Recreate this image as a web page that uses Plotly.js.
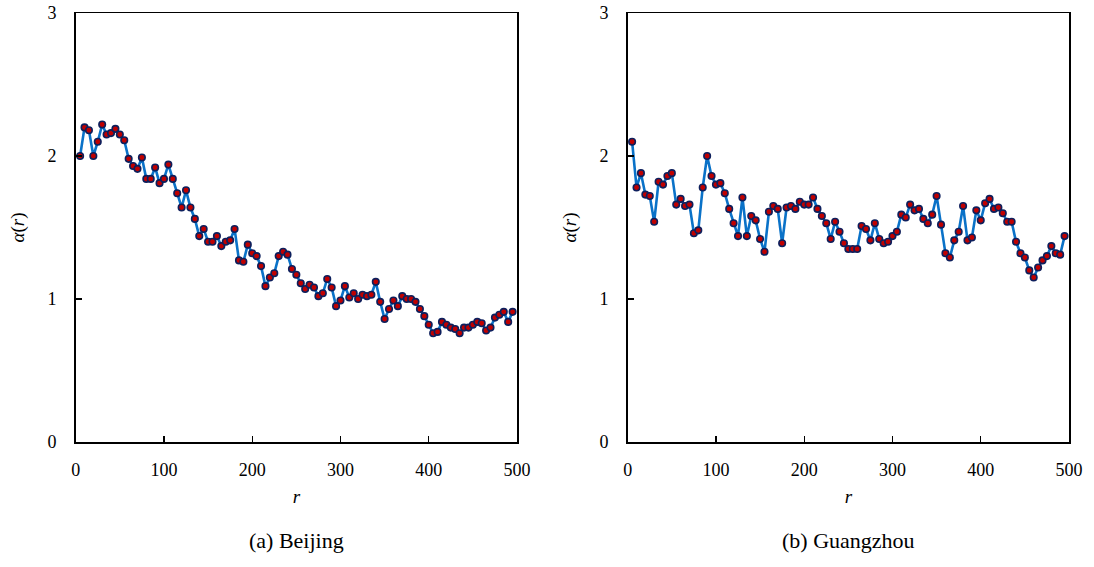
<!DOCTYPE html>
<html>
<head>
<meta charset="utf-8">
<script src="https://cdn.plot.ly/plotly-3.0.1.min.js"></script>
<style>html,body{margin:0;padding:0;background:#fff;}#chart{width:1094px;height:567px;}</style>
</head>
<body>
<div id="chart"></div>
<script>
// r values: 5, 10, ..., 495
var rValues = [5,10,15,20,25,30,35,40,45,50,55,60,65,70,75,80,85,90,95,100,
105,110,115,120,125,130,135,140,145,150,155,160,165,170,175,180,185,190,195,200,
205,210,215,220,225,230,235,240,245,250,255,260,265,270,275,280,285,290,295,300,
305,310,315,320,325,330,335,340,345,350,355,360,365,370,375,380,385,390,395,400,
405,410,415,420,425,430,435,440,445,450,455,460,465,470,475,480,485,490,495];

var beijingAlpha = [2.00,2.20,2.18,2.00,2.10,2.22,2.15,2.16,2.19,2.15,
2.11,1.98,1.93,1.91,1.99,1.84,1.84,1.92,1.81,1.84,
1.94,1.84,1.74,1.64,1.76,1.64,1.56,1.44,1.49,1.40,
1.40,1.44,1.37,1.40,1.41,1.49,1.27,1.26,1.38,1.32,
1.30,1.23,1.09,1.15,1.18,1.30,1.33,1.31,1.21,1.17,
1.11,1.07,1.10,1.08,1.02,1.04,1.14,1.08,0.95,0.99,
1.09,1.01,1.04,1.00,1.03,1.02,1.03,1.12,0.98,0.86,
0.93,0.99,0.95,1.02,1.00,1.00,0.98,0.93,0.88,0.82,
0.76,0.77,0.84,0.82,0.80,0.79,0.76,0.80,0.80,0.82,
0.84,0.83,0.78,0.80,0.87,0.89,0.91,0.84,0.91];

var guangzhouAlpha = [2.10,1.78,1.88,1.73,1.72,1.54,1.82,1.80,1.86,1.88,
1.66,1.70,1.65,1.66,1.46,1.48,1.78,2.00,1.86,1.80,
1.81,1.74,1.63,1.53,1.44,1.71,1.44,1.58,1.55,1.42,
1.33,1.61,1.65,1.63,1.39,1.64,1.65,1.63,1.68,1.66,
1.66,1.71,1.63,1.58,1.53,1.42,1.54,1.47,1.39,1.35,
1.35,1.35,1.51,1.49,1.41,1.53,1.42,1.39,1.40,1.44,
1.47,1.59,1.57,1.66,1.62,1.63,1.56,1.53,1.59,1.72,
1.52,1.32,1.29,1.41,1.47,1.65,1.41,1.43,1.62,1.55,
1.67,1.70,1.63,1.64,1.60,1.54,1.54,1.40,1.32,1.29,
1.20,1.15,1.22,1.27,1.30,1.37,1.32,1.31,1.44];

var xTicks = [0,100,200,300,400,500];
var yTicks = [0,1,2,3];
var captions = ["(a) Beijing", "(b) Guangzhou"];

var FONT = "'Liberation Serif', 'Times New Roman', Times, serif";

function trace(y, xa, ya) {
  return {
    x: rValues, y: y, xaxis: xa, yaxis: ya,
    type: "scatter", mode: "lines+markers",
    line: {color: "#0a72c8", width: 2.6},
    marker: {size: 6.5, color: "#c00000", line: {color: "#0d1f5c", width: 1.6}},
    hoverinfo: "skip", showlegend: false, cliponaxis: false
  };
}

function xaxis(domain, anchor) {
  return {
    domain: domain, anchor: anchor, range: [0, 500],
    tickvals: xTicks, ticks: "inside", ticklen: 6, tickwidth: 1.2, tickcolor: "#000",
    showline: true, linecolor: "#000", linewidth: 1.5, mirror: true,
    showgrid: false, zeroline: false,
    tickfont: {family: FONT, size: 18, color: "#000"},
    ticklabelstandoff: 11,
    title: {text: "<i>r</i>", font: {family: FONT, size: 19, color: "#000"}, standoff: 10}
  };
}
function yaxis(domain, anchor) {
  return {
    domain: domain, anchor: anchor, range: [0, 3],
    tickvals: yTicks, ticks: "inside", ticklen: 6, tickwidth: 1.2, tickcolor: "#000",
    showline: true, linecolor: "#000", linewidth: 1.5, mirror: true,
    showgrid: false, zeroline: false,
    tickfont: {family: FONT, size: 18, color: "#000"},
    ticklabelstandoff: 14,
    title: {text: "<i>α</i>(<i>r</i>)", font: {family: FONT, size: 19, color: "#000"}, standoff: 18}
  };
}

var W = 1094, H = 567;
var yDom = [(H - 442) / H, (H - 13) / H];
var x1Dom = [75.7 / W, 517 / W];
var x2Dom = [627.7 / W, 1069 / W];

var layout = {
  width: W, height: H,
  margin: {l: 0, r: 0, t: 0, b: 0},
  paper_bgcolor: "#fff", plot_bgcolor: "#fff",
  font: {family: FONT, color: "#000"},
  xaxis: xaxis(x1Dom, "y"),
  yaxis: yaxis(yDom, "x"),
  xaxis2: xaxis(x2Dom, "y2"),
  yaxis2: yaxis(yDom, "x2"),
  annotations: [
    {text: captions[0], xref: "paper", yref: "paper", x: (x1Dom[0] + x1Dom[1]) / 2, y: (H - 540) / H,
     showarrow: false, xanchor: "center", yanchor: "middle", font: {family: FONT, size: 22, color: "#000"}},
    {text: captions[1], xref: "paper", yref: "paper", x: (x2Dom[0] + x2Dom[1]) / 2, y: (H - 540) / H,
     showarrow: false, xanchor: "center", yanchor: "middle", font: {family: FONT, size: 22, color: "#000"}}
  ]
};

Plotly.newPlot("chart", [trace(beijingAlpha, "x", "y"), trace(guangzhouAlpha, "x2", "y2")], layout,
  {displayModeBar: false, staticPlot: true});
</script>
</body>
</html>
